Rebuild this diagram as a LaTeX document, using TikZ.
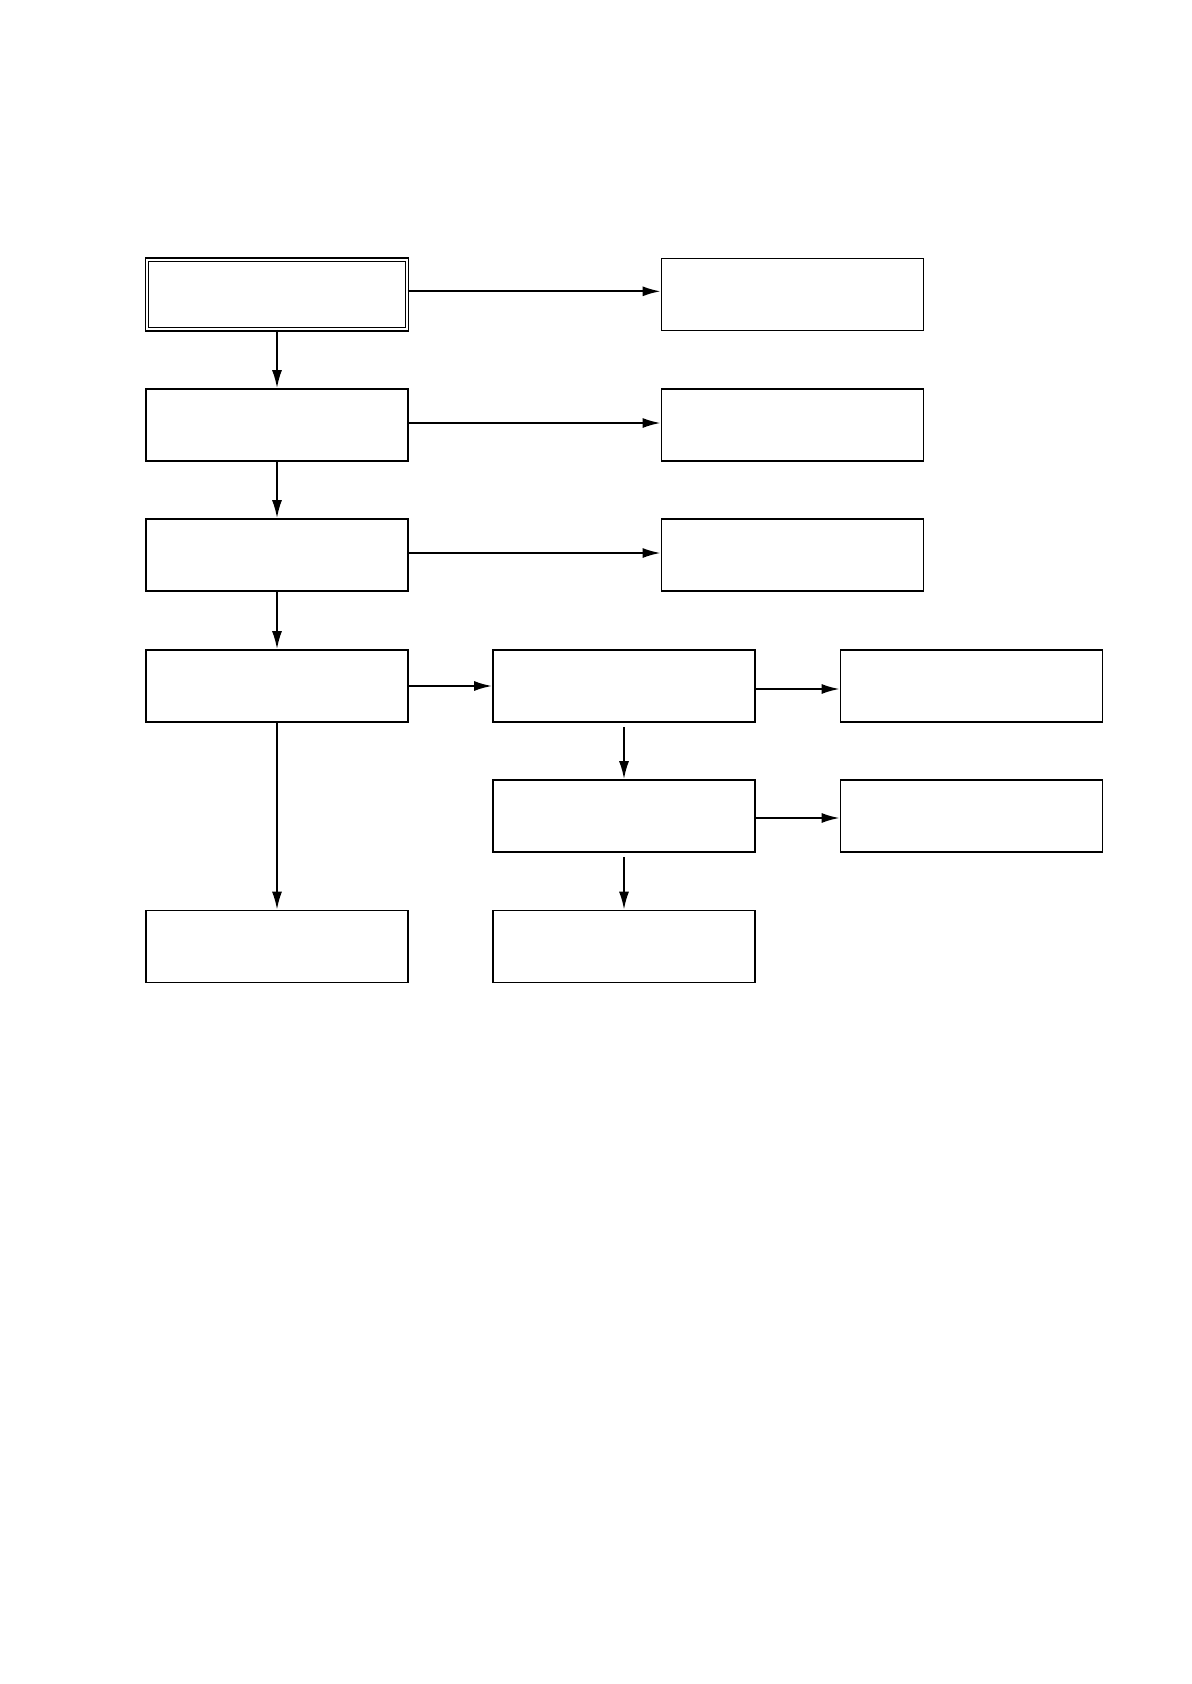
\documentclass[tikz,border=0pt]{standalone}
\usetikzlibrary{arrows.meta, math}

\tikzset{
  blk/.style={draw, line width=0.8pt, minimum width=4.62cm, minimum height=1.27cm, inner sep=0pt},
  blkdbl/.style={blk, double, line width=0.6pt, double distance=1.1pt, minimum width=4.58cm, minimum height=1.23cm},
  flow/.style={-{Latex[length=9pt,width=5pt]}, line width=1pt}
}

\begin{document}
\begin{tikzpicture}[x=0.01763cm, y=-0.01763cm]
\tikzmath{
\xa=277; \xb=792.5; \xc=624; \xd=971.5;
}
\useasboundingbox (0,0) rectangle (1191,1684);

% left column
\node[blkdbl] (start) at (\xa,294.5) {};
\node[blk] (l2) at (\xa,425) {};
\node[blk] (l3) at (\xa,555) {};
\node[blk] (l4) at (\xa,686) {};
\node[blk] (l6) at (\xa,946.5) {};

% right column
\node[blk] (r1) at (\xb,294.5) {};
\node[blk] (r2) at (\xb,425) {};
\node[blk] (r3) at (\xb,555) {};

% middle and far right
\node[blk] (m4) at (\xc,686) {};
\node[blk] (m5) at (\xc,816) {};
\node[blk] (m6) at (\xc,946.5) {};
\node[blk] (f4) at (\xd,686) {};
\node[blk] (f5) at (\xd,816) {};

\draw[flow] (start) -- (l2);
\draw[flow] (l2) -- (l3);
\draw[flow] (l3) -- (l4);
\draw[flow] (l4) -- (l6);

\draw[flow] ([yshift=1.6pt]start.east) -- ([yshift=1.6pt]r1.west);
\draw[flow] ([yshift=1pt]l2.east) -- ([yshift=1pt]r2.west);
\draw[flow] ([yshift=1pt]l3.east) -- ([yshift=1pt]r3.west);
\draw[flow] (l4) -- (m4);

\draw[flow] ([yshift=-1.5pt]m4.east) -- ([yshift=-1.5pt]f4.west);
\draw[flow] ([yshift=-1pt]m5.east) -- ([yshift=-1pt]f5.west);
\draw[flow, shorten <=2pt] (m4) -- (m5);
\draw[flow, shorten <=2pt] (m5) -- (m6);

\end{tikzpicture}
\end{document}
